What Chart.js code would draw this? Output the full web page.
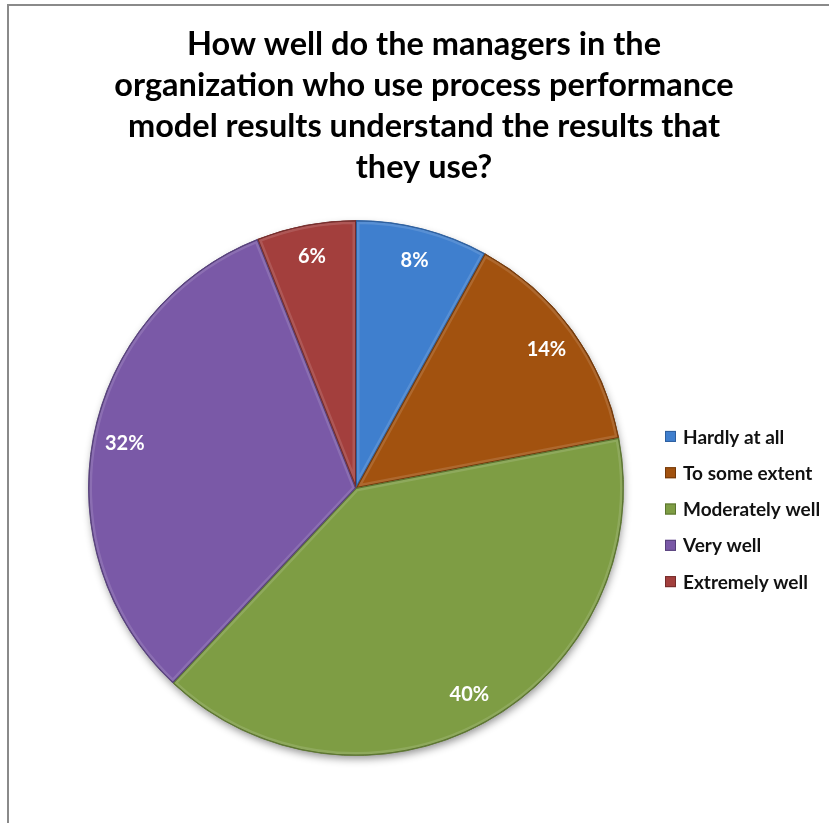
<!DOCTYPE html>
<html>
<head>
<meta charset="utf-8">
<script src="https://cdn.jsdelivr.net/npm/chart.js@4/dist/chart.umd.min.js"></script>
<style>
  html, body { margin: 0; padding: 0; background: #fff; overflow: hidden; }
  #wrap { position: relative; width: 829px; height: 823px; }
  #frame {
    position: absolute; left: 7px; top: 4px; width: 900px; height: 900px;
    border-left: 2px solid #8a8a8a; border-top: 2px solid #8a8a8a;
  }
  canvas { position: absolute; left: 0; top: 0; }
</style>
</head>
<body>
<div id="wrap">
  <div id="frame"></div>
  <canvas id="pieChart" width="829" height="823"></canvas>
</div>
<script>
const titleLines = [
  'How well do the managers in the',
  'organization who use process performance',
  'model results understand the results that',
  'they use?'
];
const answers = ['Hardly at all', 'To some extent', 'Moderately well', 'Very well', 'Extremely well'];
const shares = [8, 14, 40, 32, 6];
const sliceColors = ['#3f7fce', '#a2520f', '#7e9d44', '#7a59a7', '#a33f3d'];
const edgeColors = ['#2d5f9e', '#73390a', '#5b7430', '#56407a', '#742c2b'];

const FONT = "Lato, 'Open Sans', sans-serif";

// soft drop shadow under the whole pie
const pieShadow = {
  id: 'pieShadow',
  beforeDatasetsDraw(chart) {
    const arc = chart.getDatasetMeta(0).data[0];
    if (!arc) return;
    const ctx = chart.ctx;
    ctx.save();
    ctx.shadowColor = 'rgba(0,0,0,0.45)';
    ctx.shadowBlur = 9;
    ctx.shadowOffsetX = 1;
    ctx.shadowOffsetY = 4;
    ctx.fillStyle = '#777';
    ctx.beginPath();
    ctx.arc(arc.x, arc.y, arc.outerRadius - 1, 0, Math.PI * 2);
    ctx.fill();
    ctx.restore();
  }
};

// light inner edge on each slice, then the percent labels
const sliceDecor = {
  id: 'sliceDecor',
  afterDatasetsDraw(chart) {
    const ctx = chart.ctx;
    const arcs = chart.getDatasetMeta(0).data;
    arcs.forEach((arc, i) => {
      const { x, y, startAngle, endAngle, outerRadius } = arc;
      ctx.save();
      ctx.beginPath();
      ctx.moveTo(x, y);
      ctx.arc(x, y, outerRadius, startAngle, endAngle);
      ctx.closePath();
      ctx.clip();
      ctx.lineWidth = 7;
      ctx.strokeStyle = 'rgba(255,255,255,0.13)';
      ctx.stroke();
      ctx.lineWidth = 2;
      ctx.strokeStyle = edgeColors[i];
      ctx.stroke();
      ctx.restore();
    });
    ctx.save();
    ctx.fillStyle = '#fff';
    ctx.font = 'bold 20px ' + FONT;
    ctx.textAlign = 'center';
    ctx.textBaseline = 'middle';
    arcs.forEach((arc, i) => {
      const mid = (arc.startAngle + arc.endAngle) / 2;
      const r = arc.outerRadius * 0.88;
      ctx.fillText(shares[i] + '%', arc.x + Math.cos(mid) * r, arc.y + Math.sin(mid) * r);
    });
    ctx.restore();
  }
};

// legend column kept in its own layout box on the right
const sideLegend = {
  id: 'sideLegend',
  afterInit(chart) {
    const box = {
      position: 'right', weight: 0, fullSize: false, options: {},
      left: 0, top: 0, right: 0, bottom: 0, width: 0, height: 0,
      update(maxWidth, maxHeight) { this.width = 136; this.height = maxHeight; },
      isHorizontal() { return false; },
      draw() {
        const ctx = chart.ctx;
        const x0 = this.left - 28;
        const yMid = (this.top + this.bottom) / 2 + 21;
        const step = 36.3;
        ctx.save();
        ctx.font = 'bold 19px ' + FONT;
        ctx.textBaseline = 'middle';
        ctx.textAlign = 'left';
        answers.forEach((label, i) => {
          const y = yMid + (i - 2) * step;
          ctx.fillStyle = sliceColors[i];
          ctx.fillRect(x0, y - 5.5, 11, 11);
          ctx.strokeStyle = edgeColors[i];
          ctx.lineWidth = 1;
          ctx.strokeRect(x0 + 0.5, y - 5, 10, 10);
          ctx.fillStyle = '#111';
          ctx.fillText(label, x0 + 18, y + 1);
        });
        ctx.restore();
      }
    };
    Chart.layouts.addBox(chart, box);
  }
};

const ctx = document.getElementById('pieChart').getContext('2d');
new Chart(ctx, {
  type: 'pie',
  data: {
    labels: answers,
    datasets: [{
      data: shares,
      backgroundColor: sliceColors,
      borderColor: edgeColors,
      borderWidth: 1
    }]
  },
  options: {
    responsive: false,
    animation: false,
    layout: { padding: { left: 19, right: 0, top: 0, bottom: 67 } },
    plugins: {
      legend: { display: false },
      tooltip: { enabled: false },
      title: {
        display: true,
        text: titleLines,
        color: '#000',
        font: { family: FONT, size: 32.5, weight: 'bold', lineHeight: 1.262 },
        padding: { top: 24, bottom: 32 }
      }
    }
  },
  plugins: [pieShadow, sliceDecor, sideLegend]
});
</script>
</body>
</html>
